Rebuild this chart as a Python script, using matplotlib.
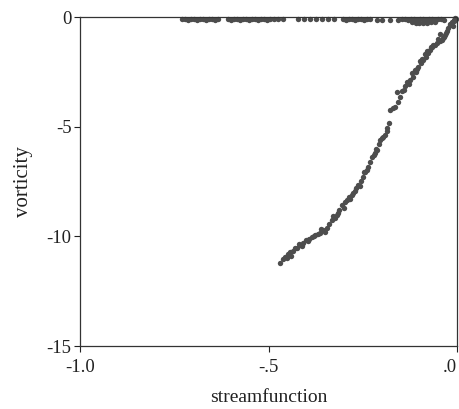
import matplotlib
matplotlib.use('Agg')
from matplotlib import pyplot as plt

# points hugging the zero line (streamfunction, vorticity)
top_x = [-0.729, -0.721, -0.713, -0.705, -0.697, -0.689, -0.681, -0.673, -0.665,
         -0.657, -0.649, -0.641, -0.633,
         -0.607, -0.599, -0.591, -0.583, -0.575, -0.567, -0.559, -0.551, -0.543,
         -0.535, -0.527, -0.519, -0.511, -0.503, -0.495, -0.485, -0.474, -0.462,
         -0.422, -0.406, -0.390, -0.374, -0.358, -0.342, -0.326,
         -0.302, -0.294, -0.286, -0.278, -0.270, -0.262, -0.254, -0.246, -0.238,
         -0.230, -0.212, -0.199, -0.178, -0.156,
         -0.146, -0.138, -0.130, -0.122, -0.114, -0.106, -0.098, -0.090, -0.082,
         -0.074, -0.066, -0.058, -0.050, -0.042, -0.034,
         -0.120, -0.110, -0.100, -0.090, -0.080, -0.070, -0.060]
top_y = [-0.10, -0.08, -0.12, -0.10, -0.08, -0.12, -0.10, -0.08, -0.12,
         -0.10, -0.08, -0.12, -0.10,
         -0.08, -0.12, -0.10, -0.08, -0.12, -0.10, -0.08, -0.12, -0.10,
         -0.08, -0.12, -0.10, -0.08, -0.12, -0.10, -0.10, -0.10, -0.10,
         -0.10, -0.10, -0.10, -0.10, -0.10, -0.10, -0.10,
         -0.08, -0.12, -0.10, -0.08, -0.12, -0.10, -0.08, -0.12, -0.10,
         -0.10, -0.12, -0.15, -0.15, -0.12,
         -0.10, -0.08, -0.12, -0.10, -0.08, -0.12, -0.10, -0.08, -0.12,
         -0.10, -0.08, -0.12, -0.10, -0.08, -0.12,
         -0.22, -0.25, -0.25, -0.27, -0.25, -0.22, -0.20]

# the branch that curves down to the lower left
curve_x = [-0.469, -0.462, -0.456, -0.449, -0.443, -0.436, -0.430, -0.424, -0.416,
           -0.408, -0.400, -0.392, -0.385, -0.377, -0.370, -0.363, -0.355, -0.345,
           -0.340, -0.332, -0.325, -0.318, -0.312, -0.305, -0.298, -0.292, -0.286,
           -0.279, -0.272, -0.268, -0.263, -0.256, -0.249, -0.243, -0.236, -0.230,
           -0.225, -0.218, -0.212, -0.208, -0.204, -0.197, -0.191, -0.185, -0.180,
           -0.178, -0.170, -0.164, -0.158, -0.151, -0.145, -0.139, -0.133, -0.125,
           -0.117, -0.110, -0.103, -0.096, -0.090, -0.083, -0.077, -0.071, -0.066,
           -0.060, -0.053, -0.046, -0.040, -0.036, -0.032, -0.028, -0.024, -0.018,
           -0.013, -0.009, -0.005,
           -0.440, -0.420, -0.395, -0.360, -0.328, -0.300, -0.275, -0.246, -0.220,
           -0.160, -0.128, -0.112, -0.098, -0.085, -0.070, -0.045, -0.020, -0.012,
           -0.452, -0.412, -0.380, -0.350, -0.315, -0.283, -0.258, -0.240, -0.214,
           -0.200, -0.187, -0.141, -0.120, -0.106, -0.093, -0.079, -0.063, -0.050,
           -0.038, -0.030, -0.016, -0.008, -0.003]
curve_y = [-11.22, -11.05, -10.94, -10.82, -10.71, -10.65, -10.55, -10.53, -10.40,
           -10.30, -10.18, -10.10, -10.03, -9.92, -9.90, -9.85, -9.72, -9.62,
           -9.45, -9.26, -9.15, -9.03, -8.80, -8.57, -8.45, -8.34, -8.22,
           -8.12, -7.92, -7.80, -7.66, -7.48, -7.29, -7.05, -6.84, -6.60,
           -6.38, -6.20, -6.06, -5.80, -5.61, -5.45, -5.38, -5.06, -4.83,
           -4.24, -4.15, -4.10, -3.85, -3.65, -3.35, -3.15, -2.96, -2.85,
           -2.74, -2.50, -2.28, -2.10, -1.96, -1.80, -1.64, -1.50, -1.37,
           -1.25, -1.19, -1.10, -1.05, -0.90, -0.82, -0.65, -0.50, -0.35,
           -0.23, -0.12, -0.02,
           -10.90, -10.35, -10.20, -9.68, -9.05, -8.70, -8.00, -7.05, -6.30,
           -3.40, -3.05, -2.40, -2.00, -1.70, -1.35, -0.75, -0.30, -0.40,
           -10.98, -10.45, -9.98, -9.80, -8.95, -8.30, -7.70, -6.95, -6.00,
           -5.50, -5.20, -3.30, -2.55, -2.35, -1.92, -1.55, -1.25, -1.00,
           -0.95, -0.70, -0.30, -0.18, -0.08]

x_ticks = [-1.0, -0.5, 0.0]
x_tick_labels = ['-1.0', '-.5', '.0']
y_ticks = [0, -5, -10, -15]
y_tick_labels = ['0', '-5', '-10', '-15']

plt.rcParams['font.family'] = ['Liberation Serif', 'DejaVu Serif']

figure, axes = plt.subplots(figsize=(4.59, 4.09), dpi=100)
figure.subplots_adjust(left=0.174, right=0.996, bottom=0.154, top=0.958)

dot_color = '#4d4d4d'
axes.scatter(top_x, top_y, s=15, color=dot_color, linewidths=0, clip_on=False)
axes.scatter(curve_x, curve_y, s=15, color=dot_color, linewidths=0, clip_on=False)

axes.set_xlim(-1.0, 0.0)
axes.set_ylim(-15, 0)
axes.set_xticks(x_ticks)
axes.set_xticklabels(x_tick_labels)
axes.set_yticks(y_ticks)
axes.set_yticklabels(y_tick_labels)
axes.tick_params(direction='out', length=4, width=0.8, labelsize=13.5, colors='#222222')
axes.tick_params(axis='x', pad=5)
axes.tick_params(axis='y', pad=2)
axes.get_xticklabels()[-1].set_horizontalalignment('right')

for side in ('left', 'bottom', 'right', 'top'):
    axes.spines[side].set_linewidth(0.9)
    axes.spines[side].set_color('#333333')

axes.set_xlabel('streamfunction', fontsize=14, labelpad=10, color='#222222')
axes.set_ylabel('vorticity', fontsize=15, labelpad=10, color='#222222')

figure.savefig('out.png', dpi=100)
